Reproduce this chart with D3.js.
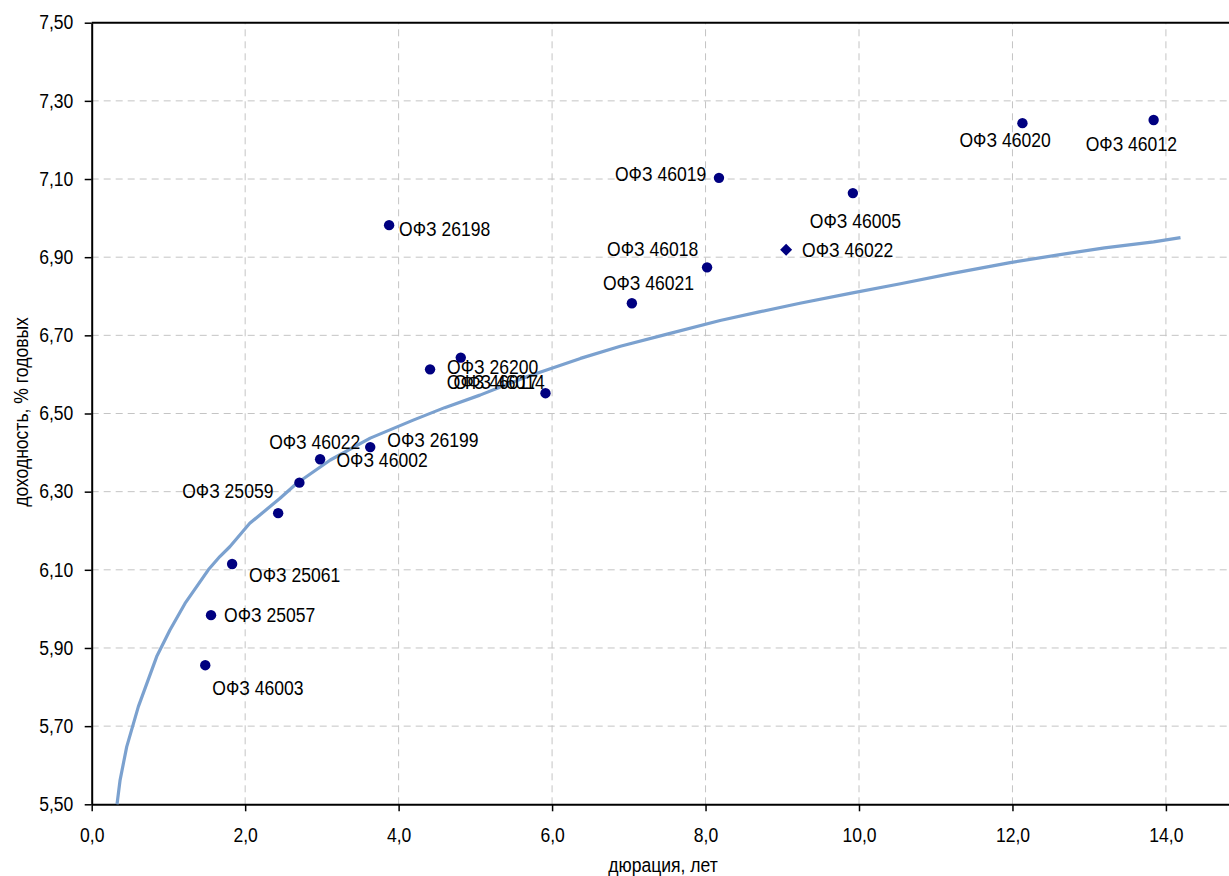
<!DOCTYPE html>
<html>
<head>
<meta charset="utf-8">
<script src="https://cdn.jsdelivr.net/npm/d3@7"></script>
<style>
  body { margin: 0; background: #fff; }
  text { font-family: "Liberation Sans", Arial, sans-serif; fill: #000; }
</style>
</head>
<body>
<svg id="target"></svg>
<script>
// bonds (ОФЗ): duration in years, yield in % p.a.
const bondNames = ["ОФЗ 46003", "ОФЗ 25057", "ОФЗ 25061", "ОФЗ 25059", "ОФЗ 46002",
  "ОФЗ 46022", "ОФЗ 26199", "ОФЗ 26198", "ОФЗ 26200", "ОФЗ 46017", "ОФЗ 46014",
  "ОФЗ 46021", "ОФЗ 46018", "ОФЗ 46019", "ОФЗ 46005", "ОФЗ 46020", "ОФЗ 46012"];
const bondDuration = [1.48, 1.555, 1.83, 2.43, 2.707, 2.977, 3.63, 3.876, 4.41, 4.81, 5.914,
  7.04, 8.02, 8.175, 9.92, 12.13, 13.84];
const bondYield = [5.856, 5.984, 6.115, 6.245, 6.323, 6.383, 6.414, 6.982, 6.613, 6.643, 6.552,
  6.782, 6.874, 7.103, 7.064, 7.243, 7.251];

// new issue, drawn as a diamond
const newNames = ["ОФЗ 46022"];
const newDuration = [9.05];
const newYield = [6.919];

// yield curve
const curveDuration = [0.33, 0.37, 0.456, 0.608, 0.847, 1.02, 1.216, 1.52, 1.67, 1.80, 2.06,
  2.455, 2.67, 3.11, 3.63, 4.19, 4.6, 5.06, 5.67, 6.37, 6.89, 7.5, 8.19, 8.7, 9.23, 9.9,
  10.54, 11.2, 11.97, 12.6, 13.2, 13.84, 14.19];
const curveYield = [5.50, 5.562, 5.647, 5.750, 5.878, 5.946, 6.014, 6.100, 6.134, 6.159, 6.219,
  6.283, 6.321, 6.381, 6.437, 6.483, 6.515, 6.547, 6.594, 6.641, 6.672, 6.703, 6.738, 6.760,
  6.782, 6.808, 6.832, 6.858, 6.886, 6.906, 6.924, 6.939, 6.950];

const xTicks = [0, 2, 4, 6, 8, 10, 12, 14];
const yTicks = [5.5, 5.7, 5.9, 6.1, 6.3, 6.5, 6.7, 6.9, 7.1, 7.3, 7.5];

const width = 1229;
const height = 876;
const fontSize = 19.5;
const squeeze = "scale(0.9,1)";

// where each label sits relative to its marker [dx, dy] (manually placed like in the source)
const labelShift = [[7, 23], [13, 0], [17, 11], [-96, -22], [37, -23], [-51, -17], [17, -7],
  [10, 4], [17, -2], [-14, 24], [-92, -11], [-29, -20], [-100, -18], [-104, -4], [-43, 28],
  [-63, 17], [-68, 24]];
const newLabelShift = [[16, 0]];

const svg = d3.select('#target')
  .attr('width', width)
  .attr('height', height);

const x = d3.scaleLinear().domain([0, 15]).range([91.7, 91.7 + 15 * 76.73]);
const y = d3.scaleLinear().domain([5.5, 7.5]).range([804.3, 22.7]);

const comma = (fmt) => d => d3.format(fmt)(d).replace('.', ',');

// grid
svg.append("g")
  .selectAll("line")
  .data(yTicks.filter(d => d > 5.5 && d < 7.5))
  .enter().append("line")
    .attr("x1", x(0)).attr("x2", x(15))
    .attr("y1", d => y(d)).attr("y2", d => y(d))
    .attr("stroke", "#c4c4c4")
    .attr("stroke-dasharray", "7,5");

svg.append("g")
  .selectAll("line")
  .data(xTicks.filter(d => d > 0))
  .enter().append("line")
    .attr("x1", d => x(d)).attr("x2", d => x(d))
    .attr("y1", y(5.5)).attr("y2", y(7.5))
    .attr("stroke", "#c4c4c4")
    .attr("stroke-dasharray", "7,5");

// top border
svg.append("line")
  .attr("x1", x(0)).attr("x2", x(15))
  .attr("y1", y(7.5)).attr("y2", y(7.5))
  .attr("stroke", "#000").attr("stroke-width", 2);

// axes
const xAxis = svg.append("g")
  .attr("transform", "translate(0," + y(5.5) + ")")
  .call(d3.axisBottom(x).tickValues(xTicks).tickSize(7).tickSizeOuter(0).tickFormat(comma(".1f")));

const yAxis = svg.append("g")
  .attr("transform", "translate(" + x(0) + ",0)")
  .call(d3.axisLeft(y).tickValues(yTicks).tickSize(7).tickSizeOuter(0).tickFormat(comma(".2f")));

[xAxis, yAxis].forEach(g => {
  g.select(".domain").attr("stroke-width", 2);
  g.selectAll(".tick line").attr("stroke-width", 1.5);
  g.selectAll("text")
    .attr("font-family", null)
    .attr("font-size", fontSize)
    .attr("transform", squeeze);
});
xAxis.selectAll("text").attr("y", 24);
yAxis.selectAll("text").attr("x", -20.4);

// curve
const bonds = bondNames.map((n, i) => ({ name: n, dur: bondDuration[i], yld: bondYield[i], shift: labelShift[i] }));
const fresh = newNames.map((n, i) => ({ name: n, dur: newDuration[i], yld: newYield[i], shift: newLabelShift[i] }));
const curve = curveDuration.map((d, i) => [d, curveYield[i]]);

svg.append("path")
  .datum(curve)
  .attr("fill", "none")
  .attr("stroke", "#7ba1cf")
  .attr("stroke-width", 3.2)
  .attr("stroke-linejoin", "round")
  .attr("d", d3.line().x(d => x(d[0])).y(d => y(d[1])));

// markers
svg.append("g")
  .selectAll("circle")
  .data(bonds)
  .enter().append("circle")
    .attr("cx", d => x(d.dur))
    .attr("cy", d => y(d.yld))
    .attr("r", 5.2)
    .attr("fill", "#000080");

svg.append("g")
  .selectAll("path")
  .data(fresh)
  .enter().append("path")
    .attr("transform", d => "translate(" + x(d.dur) + "," + y(d.yld) + ") rotate(45)")
    .attr("d", d3.symbol(d3.symbolSquare, 72))
    .attr("fill", "#000080");

// labels
svg.append("g")
  .selectAll("text")
  .data(bonds.concat(fresh))
  .enter().append("text")
    .attr("transform", d => "translate(" + (x(d.dur) + d.shift[0]) + "," + (y(d.yld) + d.shift[1]) + ") " + squeeze)
    .attr("dy", "0.36em")
    .attr("font-size", fontSize)
    .text(d => d.name);

// axis titles
svg.append("text")
  .attr("transform", "translate(663,866) " + squeeze)
  .attr("text-anchor", "middle")
  .attr("dy", "0.3em")
  .attr("font-size", fontSize)
  .text("дюрация, лет");

svg.append("text")
  .attr("transform", "translate(22,412) rotate(-90) " + squeeze)
  .attr("text-anchor", "middle")
  .attr("dy", "0.3em")
  .attr("font-size", fontSize)
  .text("доходность, % годовых");
</script>
</body>
</html>
